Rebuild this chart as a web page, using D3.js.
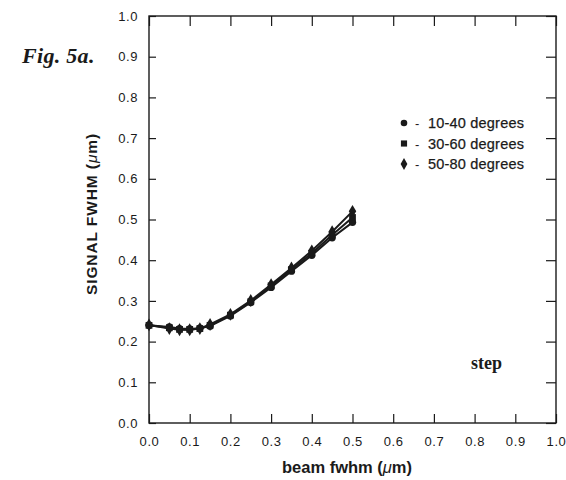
<!DOCTYPE html>
<html>
<head>
<meta charset="utf-8">
<script src="https://cdn.jsdelivr.net/npm/d3@7"></script>
<style>
  body { margin: 0; background: #fff; }
  svg { display: block; }
</style>
</head>
<body>
<svg id="chart" width="566" height="480"></svg>
<script>
/* DATA */
const beamFwhm = [0, 0.05, 0.075, 0.1, 0.125, 0.15, 0.2, 0.25, 0.3, 0.35, 0.4, 0.45, 0.5];
const deg10to40 = [0.240, 0.236, 0.232, 0.231, 0.233, 0.238, 0.263, 0.296, 0.333, 0.373, 0.412, 0.455, 0.493];
const deg30to60 = [0.240, 0.234, 0.230, 0.230, 0.232, 0.240, 0.265, 0.298, 0.337, 0.377, 0.417, 0.462, 0.505];
const deg50to80 = [0.241, 0.232, 0.229, 0.229, 0.232, 0.242, 0.267, 0.301, 0.340, 0.381, 0.423, 0.470, 0.520];
const seriesNames = ["10-40 degrees", "30-60 degrees", "50-80 degrees"];
const seriesSymbols = [d3.symbolCircle, d3.symbolSquare, d3.symbolDiamond];
const tickValues = [0, 0.1, 0.2, 0.3, 0.4, 0.5, 0.6, 0.7, 0.8, 0.9, 1.0];

/* CONSTANTS */
const margin = {top: 16, right: 10, bottom: 57, left: 149},
  width = 566, height = 480,
  innerW = 556 - margin.left,
  innerH = 423 - margin.top;
const ink = "#1a1a1a";
const sans = "'Liberation Sans', Arial, sans-serif";
const serif = "'Liberation Serif', 'Times New Roman', serif";

const svg = d3.select("#chart");
const g = svg.append("g").attr("transform", `translate(${margin.left},${margin.top})`);

/* SCALES */
const x = d3.scaleLinear().domain([0, 1]).range([0, innerW]);
const y = d3.scaleLinear().domain([0, 1]).range([innerH, 0]);

/* AXES - ticks inward on all four sides */
const fmt = d3.format(".1f");
function styleAxis(sel) {
  sel.select(".domain").remove();
  sel.selectAll("line").attr("stroke", ink).attr("stroke-width", 1.2);
  sel.selectAll("text").attr("fill", ink).attr("font-family", sans)
    .attr("font-size", "13px").attr("letter-spacing", "0.6px");
}
g.append("g")
  .attr("transform", `translate(0,${innerH})`)
  .call(d3.axisBottom(x).tickValues(tickValues).tickFormat(fmt).tickSizeInner(-9).tickSizeOuter(0).tickPadding(14))
  .call(styleAxis);
g.append("g")
  .call(d3.axisTop(x).tickValues(tickValues).tickFormat("").tickSizeInner(-10).tickSizeOuter(0))
  .call(styleAxis);
g.append("g")
  .call(d3.axisLeft(y).tickValues(tickValues).tickFormat(fmt).tickSizeInner(-7).tickSizeOuter(0).tickPadding(11))
  .call(styleAxis);
g.append("g")
  .attr("transform", `translate(${innerW},0)`)
  .call(d3.axisRight(y).tickValues(tickValues).tickFormat("").tickSizeInner(-10).tickSizeOuter(0))
  .call(styleAxis);

// frame
g.append("rect")
  .attr("width", innerW).attr("height", innerH)
  .attr("fill", "none").attr("stroke", ink).attr("stroke-width", 1.4);

/* LINES AND MARKERS */
const allSeries = [deg10to40, deg30to60, deg50to80].map((vals, i) => ({
  name: seriesNames[i],
  symbol: seriesSymbols[i],
  points: beamFwhm.map((b, j) => ({x: b, y: vals[j]}))
}));

const line = d3.line().x(d => x(d.x)).y(d => y(d.y));

g.selectAll("path.series")
  .data(allSeries)
  .join("path")
  .attr("class", "series")
  .attr("d", d => line(d.points))
  .attr("fill", "none")
  .attr("stroke", ink)
  .attr("stroke-width", 2);

const symSize = [42, 46, 48];
allSeries.forEach((s, i) => {
  g.selectAll(`path.mark${i}`)
    .data(s.points)
    .join("path")
    .attr("class", `mark${i}`)
    .attr("transform", d => `translate(${x(d.x)},${y(d.y)})`)
    .attr("d", d3.symbol().type(s.symbol).size(symSize[i]))
    .attr("fill", ink);
});

/* LEGEND */
const legend = svg.append("g").attr("transform", "translate(404,123)");
const rows = legend.selectAll("g")
  .data(allSeries)
  .join("g")
  .attr("transform", (d, i) => `translate(0,${i * 20.5})`);
rows.append("path")
  .attr("d", (d, i) => d3.symbol().type(d.symbol).size(symSize[i] - 8)())
  .attr("fill", ink);
rows.append("text")
  .attr("x", 11).attr("y", 5)
  .attr("font-family", sans).attr("font-size", "13px").attr("fill", ink)
  .text("-");
rows.append("text")
  .attr("x", 24).attr("y", 5)
  .attr("font-family", sans).attr("font-size", "14.5px").attr("fill", ink)
  .attr("letter-spacing", "0.2px").attr("stroke", ink).attr("stroke-width", 0.25)
  .text(d => d.name);

/* TITLES */
svg.append("text")
  .attr("x", 347).attr("y", 473)
  .attr("text-anchor", "middle")
  .attr("font-family", sans).attr("font-size", "16.5px").attr("font-weight", "bold").attr("fill", ink)
  .html("beam fwhm (<tspan font-style='italic' font-weight='normal'>μ</tspan>m)");

svg.append("text")
  .attr("transform", "translate(97,214) rotate(-90)")
  .attr("text-anchor", "middle")
  .attr("font-family", sans).attr("font-size", "15.5px").attr("font-weight", "bold").attr("fill", ink)
  .attr("letter-spacing", "0.9px")
  .html("SIGNAL FWHM (<tspan font-style='italic' font-weight='normal'>μ</tspan>m)");

svg.append("text")
  .attr("x", 22).attr("y", 63)
  .attr("font-family", serif).attr("font-size", "22px").attr("font-weight", "bold").attr("font-style", "italic")
  .attr("fill", ink).attr("letter-spacing", "0.3px")
  .text("Fig. 5a.");

svg.append("text")
  .attr("x", 471).attr("y", 369)
  .attr("font-family", serif).attr("font-size", "18px").attr("font-weight", "bold").attr("fill", ink)
  .text("step");
</script>
</body>
</html>
